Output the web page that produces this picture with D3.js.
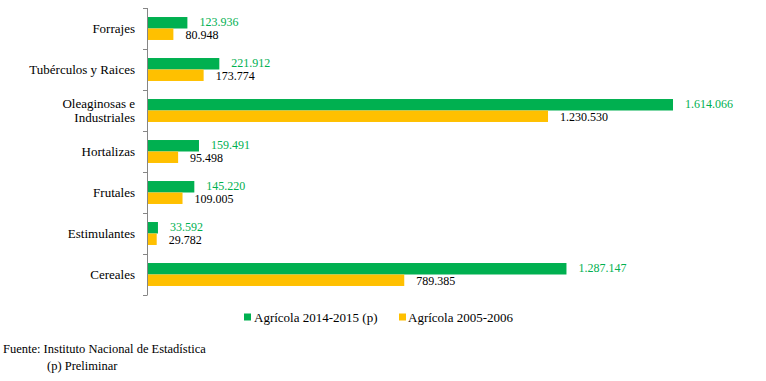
<!DOCTYPE html>
<html><head><meta charset="utf-8">
<script src="https://cdn.jsdelivr.net/npm/d3@7"></script>
<style>body{margin:0;background:#fff}svg{display:block}</style>
</head><body>
<svg id="c" width="766" height="381" font-family="'Liberation Serif', 'Times New Roman', 'DejaVu Serif', serif"></svg>
<script>
const categories = ["Forrajes","Tubérculos y Raices","Oleaginosas e Industriales","Hortalizas","Frutales","Estimulantes","Cereales"];
const categoryLines = [["Forrajes"],["Tubérculos y Raices"],["Oleaginosas e","Industriales"],["Hortalizas"],["Frutales"],["Estimulantes"],["Cereales"]];
const series2014 = [123936,221912,1614066,159491,145220,33592,1287147];
const series2005 = [80948,173774,1230530,95498,109005,29782,789385];
const seriesNames = ["Agrícola 2014-2015 (p)","Agrícola 2005-2006"];
const colors = ["#00B050","#FFC000"];
const labelColors = ["#00B050","#000000"];
const fmt = v => d3.format(",")(v).replace(/,/g,".");

const svg = d3.select("#c");
const x = d3.scaleLinear().domain([0,1800000]).range([147,733.6]);
const y = d3.scaleBand().domain(categories).range([8,295]).paddingInner(0.44).paddingOuter(0.22);
const sub = d3.scaleBand().domain([0,1]).range([0,y.bandwidth()]);

const data = [series2014, series2005];
data.forEach((s,si)=>{
  svg.append("g").selectAll("rect").data(categories).join("rect")
    .attr("x",x(0)).attr("y",d=>y(d)+sub(si))
    .attr("width",(d,i)=>x(s[i])-x(0)).attr("height",sub.bandwidth())
    .attr("fill",colors[si]);
  svg.append("g").selectAll("text").data(categories).join("text")
    .attr("x",(d,i)=>x(s[i])+12).attr("y",d=>y(d)+sub(si)+sub.bandwidth()/2+(si===0?3.5:4.8))
    .attr("font-size",12).attr("fill",labelColors[si])
    .text((d,i)=>fmt(s[i]));
});

// axis
const ax = svg.append("g");
ax.append("line").attr("x1",147.5).attr("x2",147.5).attr("y1",8).attr("y2",295).attr("stroke","#868686");
const edges = d3.range(categories.length+1).map(i=>8+i*(287/categories.length));
ax.selectAll("line.t").data(edges).join("line").attr("class","t")
  .attr("x1",143).attr("x2",147.5).attr("y1",d=>Math.round(d)+0.5).attr("y2",d=>Math.round(d)+0.5).attr("stroke","#868686");

// category labels
categories.forEach((c,i)=>{
  const lines = categoryLines[i];
  const cy = y(c)+y.bandwidth()/2;
  const t = svg.append("text").attr("text-anchor","end").attr("font-size",13).attr("fill","#000");
  lines.forEach((l,j)=>{
    t.append("tspan").attr("x",135).attr("y",cy+4.5+(j-(lines.length-1)/2)*14.5).text(l);
  });
});

// legend
const leg = [{x:244,tx:254},{x:399,tx:408}];
seriesNames.forEach((n,i)=>{
  svg.append("rect").attr("x",leg[i].x).attr("y",313.5).attr("width",7).attr("height",7).attr("fill",colors[i]);
  svg.append("text").attr("x",leg[i].tx).attr("y",321.5).attr("font-size",13).text(n);
});

svg.append("text").attr("x",3).attr("y",353).attr("font-size",12.5).text("Fuente: Instituto Nacional de Estadística");
svg.append("text").attr("x",47).attr("y",370).attr("font-size",12.5).text("(p) Preliminar");
</script>
</body></html>
